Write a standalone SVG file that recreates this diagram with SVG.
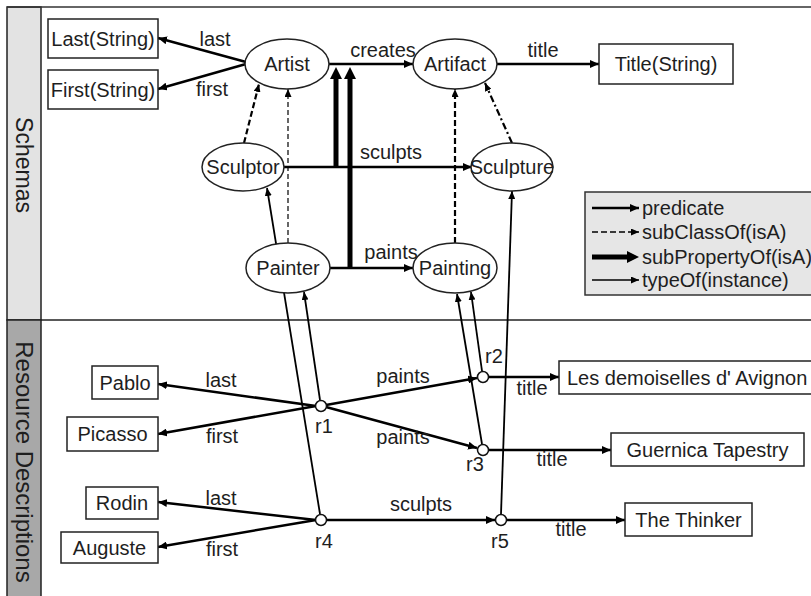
<svg xmlns="http://www.w3.org/2000/svg" width="811" height="596" viewBox="0 0 811 596">
<style>
text{font-family:"Liberation Sans",Arial,sans-serif;font-size:20px;fill:#1e1e1e}
.m{text-anchor:middle}
.box{fill:#fff;stroke:#222;stroke-width:1.5}
.ell{fill:#fff;stroke:#222;stroke-width:1.5}
.pred{stroke:#000;stroke-width:2.5;fill:none}
.typ{stroke:#000;stroke-width:1.8;fill:none}
.sub{stroke:#000;stroke-width:5;fill:none}
.cls{stroke:#000;stroke-width:2.2;fill:none;stroke-dasharray:6 3}
.clst{stroke:#000;stroke-width:1.2;fill:none;stroke-dasharray:5 3}
.dd{stroke:#000;stroke-width:2.2;fill:none;stroke-dasharray:7 3 2 3}
.res{fill:#fff;stroke:#111;stroke-width:1.5}
</style>
<defs>
<marker id="ap" markerWidth="10" markerHeight="8" refX="9" refY="4" orient="auto" markerUnits="userSpaceOnUse"><path d="M0,0 L9,4 L0,8 z" fill="#000"/></marker>
<marker id="at" markerWidth="9" markerHeight="7" refX="8" refY="3.5" orient="auto" markerUnits="userSpaceOnUse"><path d="M0,0 L8,3.5 L0,7 z" fill="#000"/></marker>
<marker id="ak" markerWidth="13" markerHeight="12" refX="0" refY="6" orient="auto" markerUnits="userSpaceOnUse"><path d="M0,0 L12,6 L0,12 z" fill="#000"/></marker>
</defs>

<!-- frame and bands -->
<g id="frame">
<rect x="7" y="7" width="34" height="313" fill="#e3e3e3" stroke="#222" stroke-width="1.5"/>
<rect x="7" y="320" width="34" height="280" fill="#a8a8a8" stroke="#222" stroke-width="1.5"/>
<line x1="7" y1="7" x2="811" y2="7" stroke="#333" stroke-width="1.5"/>
<line x1="41" y1="320" x2="811" y2="320" stroke="#222" stroke-width="1.5"/>
<text class="m" transform="translate(24,165) rotate(90)" dominant-baseline="central" style="font-size:23px">Schemas</text>
<text class="m" transform="translate(24,462) rotate(90)" dominant-baseline="central" style="font-size:24px">Resource Descriptions</text>
</g>

<g id="connectors">
<!-- schema predicates -->
<line class="pred" x1="246" y1="62" x2="158" y2="38" marker-end="url(#ap)"/>
<line class="pred" x1="246" y1="64" x2="158" y2="89" marker-end="url(#ap)"/>
<line class="pred" x1="329" y1="64" x2="413" y2="64" marker-end="url(#ap)"/>
<line class="pred" x1="497" y1="64" x2="599" y2="64" marker-end="url(#ap)"/>
<line class="pred" x1="284" y1="167" x2="472" y2="167" marker-end="url(#ap)"/>
<line class="pred" x1="330" y1="268" x2="413" y2="268" marker-end="url(#ap)"/>
<!-- subPropertyOf -->
<line class="sub" x1="336" y1="168" x2="336" y2="79" marker-end="url(#ak)"/>
<line class="sub" x1="350" y1="269" x2="350" y2="79" marker-end="url(#ak)"/>
<!-- subClassOf -->
<line class="cls" x1="244" y1="143" x2="259" y2="84" marker-end="url(#at)"/>
<line class="clst" x1="288" y1="243" x2="288" y2="89" marker-end="url(#at)"/>
<line class="cls" x1="455" y1="243" x2="455" y2="89" marker-end="url(#at)"/>
<line class="dd" x1="512" y1="143" x2="485" y2="83" marker-end="url(#at)"/>
<!-- typeOf -->
<line class="typ" x1="320" y1="514" x2="267" y2="188" marker-end="url(#at)"/>
<line class="typ" x1="320" y1="400" x2="304" y2="292" marker-end="url(#at)"/>
<line class="typ" x1="482" y1="371" x2="471" y2="292" marker-end="url(#at)"/>
<line class="typ" x1="482" y1="444" x2="457" y2="294" marker-end="url(#at)"/>
<line class="typ" x1="501" y1="514" x2="512" y2="191" marker-end="url(#at)"/>
<!-- resource predicates -->
<line class="pred" x1="316" y1="406" x2="158" y2="384" marker-end="url(#ap)"/>
<line class="pred" x1="316" y1="406" x2="158" y2="434" marker-end="url(#ap)"/>
<line class="pred" x1="316" y1="520" x2="158" y2="502" marker-end="url(#ap)"/>
<line class="pred" x1="316" y1="520" x2="158" y2="547" marker-end="url(#ap)"/>
<line class="pred" x1="326" y1="405" x2="477" y2="378" marker-end="url(#ap)"/>
<line class="pred" x1="326" y1="407" x2="477" y2="448" marker-end="url(#ap)"/>
<line class="pred" x1="327" y1="520" x2="495" y2="520" marker-end="url(#ap)"/>
<line class="pred" x1="489" y1="377" x2="559" y2="377" marker-end="url(#ap)"/>
<line class="pred" x1="489" y1="450" x2="611" y2="450" marker-end="url(#ap)"/>
<line class="pred" x1="507" y1="520" x2="625" y2="520" marker-end="url(#ap)"/>
</g>

<g id="edge-labels">
<text class="m" x="215" y="46">last</text>
<text class="m" x="212" y="96">first</text>
<text class="m" x="383" y="57">creates</text>
<text class="m" x="543" y="57">title</text>
<text class="m" x="391" y="159">sculpts</text>
<text class="m" x="391" y="259">paints</text>
<text class="m" x="221" y="387">last</text>
<text class="m" x="222" y="443">first</text>
<text class="m" x="221" y="505">last</text>
<text class="m" x="222" y="556">first</text>
<text class="m" x="403" y="383">paints</text>
<text class="m" x="403" y="444">paints</text>
<text class="m" x="421" y="511">sculpts</text>
<text class="m" x="532" y="395">title</text>
<text class="m" x="552" y="466">title</text>
<text class="m" x="571" y="536">title</text>
</g>

<g id="n-last"><rect class="box" x="48" y="19" width="110" height="39"/><text class="m" x="103" y="46">Last(String)</text></g>
<g id="n-first"><rect class="box" x="48" y="70" width="110" height="39"/><text class="m" x="103" y="97">First(String)</text></g>
<g id="n-artist"><ellipse class="ell" cx="287" cy="64" rx="42" ry="25"/><text class="m" x="287" y="71">Artist</text></g>
<g id="n-artifact"><ellipse class="ell" cx="455" cy="64" rx="42" ry="25"/><text class="m" x="455" y="71">Artifact</text></g>
<g id="n-title"><rect class="box" x="599" y="44" width="134" height="40"/><text class="m" x="666" y="71">Title(String)</text></g>
<g id="n-sculptor"><ellipse class="ell" cx="243" cy="167" rx="41" ry="24"/><text class="m" x="243" y="174">Sculptor</text></g>
<g id="n-sculpture"><ellipse class="ell" cx="512" cy="167" rx="41" ry="24"/><text class="m" x="512" y="174">Sculpture</text></g>
<g id="n-painter"><ellipse class="ell" cx="288" cy="268" rx="42" ry="25"/><text class="m" x="288" y="275">Painter</text></g>
<g id="n-painting"><ellipse class="ell" cx="455" cy="268" rx="42" ry="25"/><text class="m" x="455" y="275">Painting</text></g>

<g id="legend">
<rect x="585" y="192" width="232" height="103" fill="#e6e6e6" stroke="#333" stroke-width="1.5"/>
<line class="pred" x1="592" y1="208" x2="639" y2="208" marker-end="url(#ap)"/>
<line x1="592" y1="232" x2="639" y2="232" stroke="#000" stroke-width="1.3" stroke-dasharray="6 3" marker-end="url(#at)"/>
<line class="sub" x1="592" y1="257" x2="627" y2="257" marker-end="url(#ak)"/>
<line x1="592" y1="280" x2="639" y2="280" stroke="#000" stroke-width="1.5" marker-end="url(#at)"/>
<text x="642" y="215">predicate</text>
<text x="642" y="239">subClassOf(isA)</text>
<text x="642" y="264">subPropertyOf(isA)</text>
<text x="642" y="287">typeOf(instance)</text>
</g>

<g id="n-pablo"><rect class="box" x="92" y="366" width="66" height="33"/><text class="m" x="125" y="390">Pablo</text></g>
<g id="n-picasso"><rect class="box" x="67" y="417" width="91" height="34"/><text class="m" x="112.5" y="441">Picasso</text></g>
<g id="n-rodin"><rect class="box" x="86" y="487" width="72" height="32"/><text class="m" x="122" y="510">Rodin</text></g>
<g id="n-auguste"><rect class="box" x="61" y="532" width="97" height="31"/><text class="m" x="109.5" y="555">Auguste</text></g>
<g id="n-les"><rect class="box" x="559" y="361" width="256" height="33"/><text x="567" y="385">Les demoiselles d' Avignon</text></g>
<g id="n-guernica"><rect class="box" x="611" y="433" width="193" height="33"/><text class="m" x="707.5" y="457">Guernica Tapestry</text></g>
<g id="n-thinker"><rect class="box" x="625" y="503" width="127" height="33"/><text class="m" x="688.5" y="527">The Thinker</text></g>

<g id="n-r1"><circle class="res" cx="321" cy="406" r="5.5"/><text class="m" x="324" y="433">r1</text></g>
<g id="n-r2"><circle class="res" cx="483" cy="377" r="5.5"/><text class="m" x="494" y="363">r2</text></g>
<g id="n-r3"><circle class="res" cx="483" cy="450" r="5.5"/><text class="m" x="475" y="471">r3</text></g>
<g id="n-r4"><circle class="res" cx="321" cy="520" r="5.5"/><text class="m" x="324" y="548">r4</text></g>
<g id="n-r5"><circle class="res" cx="501" cy="520" r="5.5"/><text class="m" x="500" y="548">r5</text></g>
</svg>
